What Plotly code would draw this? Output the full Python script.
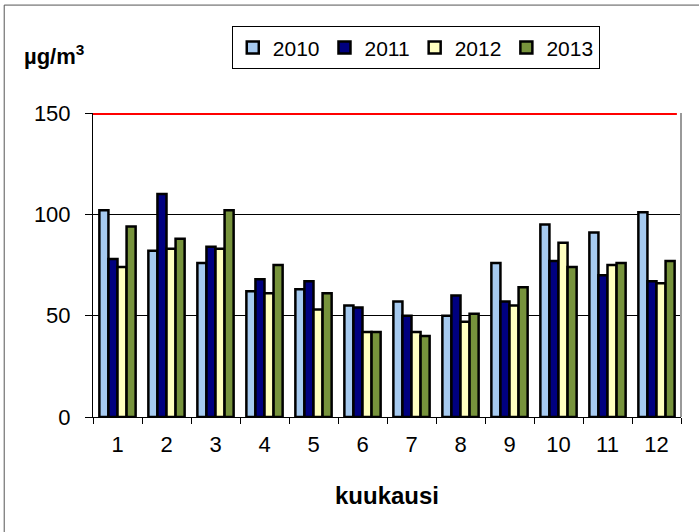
import plotly.graph_objects as go

months = ["1", "2", "3", "4", "5", "6", "7", "8", "9", "10", "11", "12"]
years = ["2010", "2011", "2012", "2013"]
v2010 = [102, 82, 76, 62, 63, 55, 57, 50, 76, 95, 91, 101]
v2011 = [78, 110, 84, 68, 67, 54, 50, 60, 57, 77, 70, 67]
v2012 = [74, 83, 83, 61, 53, 42, 42, 47, 55, 86, 75, 66]
v2013 = [94, 88, 102, 75, 61, 42, 40, 51, 64, 74, 76, 77]
limit_value = 150
y_ticks = [0, 50, 100, 150]

colors = ["#A6CAF0", "#000080", "#FFFFC0", "#77933C"]
series = [v2010, v2011, v2012, v2013]

FONT = "Liberation Sans, Arial, sans-serif"

fig = go.Figure()
for name, vals, col in zip(years, series, colors):
    fig.add_trace(go.Bar(
        x=months, y=vals, name=name,
        marker=dict(color=col, line=dict(color="black", width=2.5)),
    ))

fig.update_layout(
    width=699, height=532,
    margin=dict(l=93, r=18, t=113, b=115),
    paper_bgcolor="white", plot_bgcolor="white",
    barmode="group", bargap=0.26, bargroupgap=0,
    font=dict(family=FONT, size=22, color="black"),
    showlegend=True,
    legend=dict(
        orientation="h", x=0.236, y=1.285, xanchor="left", yanchor="top",
        bordercolor="black", borderwidth=1, bgcolor="white",
        font=dict(family=FONT, size=21, color="black"),
        itemwidth=30, tracegroupgap=0,
    ),
    xaxis=dict(
        type="category", showgrid=False, showline=True, linecolor="black", linewidth=1,
        ticks="outside", tickson="boundaries", ticklen=6, tickcolor="black",
        ticklabelstandoff=8,
        tickfont=dict(family=FONT, size=22),
        title=dict(text="<b>kuukausi</b>", font=dict(family=FONT, size=24), standoff=30),
        zeroline=False,
    ),
    yaxis=dict(
        range=[0, 150], tickvals=y_ticks, showgrid=True, gridcolor="black", gridwidth=1,
        showline=True, linecolor="black", linewidth=1,
        ticks="outside", ticklen=7, tickcolor="black", ticklabelstandoff=10,
        tickfont=dict(family=FONT, size=22), zeroline=False,
    ),
    shapes=[
        dict(type="line", xref="paper", yref="paper", x0=1, x1=1, y0=0, y1=1,
             line=dict(color="#999999", width=2)),
        dict(type="line", xref="paper", yref="y", x0=0, x1=0.993, y0=limit_value, y1=limit_value,
             line=dict(color="#FF0000", width=4)),
        dict(type="rect", xref="paper", yref="paper", x0=-0.151, x1=1.1, y0=-0.5, y1=1.355,
             line=dict(color="#555555", width=1), fillcolor="rgba(0,0,0,0)", layer="below"),
    ],
    annotations=[
        dict(text="<b>µg/m<sup>3</sup></b>", xref="paper", yref="paper", x=-0.121, y=1.191,
             xanchor="left", yanchor="middle", showarrow=False,
             font=dict(family=FONT, size=22, color="black")),
    ],
)

fig.write_html("out.html", config={"displayModeBar": False},
               post_script="document.body.style.margin='0';")
